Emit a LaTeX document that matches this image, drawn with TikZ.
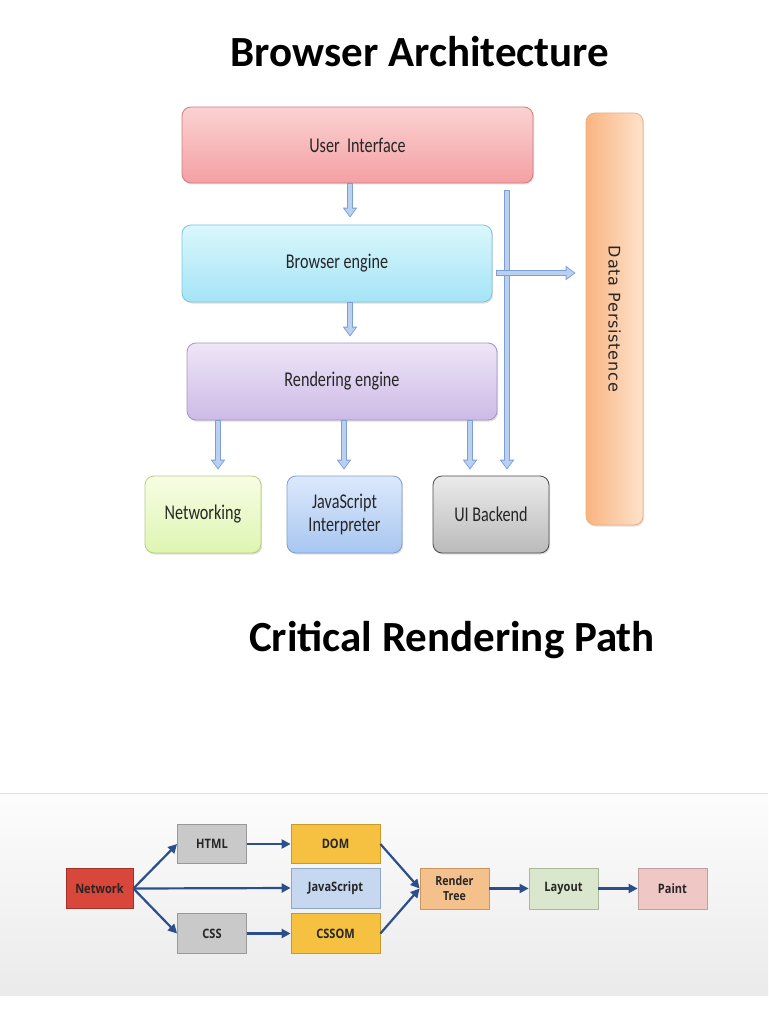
\documentclass[tikz,border=0pt]{standalone}
\usepackage{fontspec}
\setmainfont{Carlito}
\newfontfamily\boxfont[FakeStretch=0.77]{Carlito}
\newfontfamily\crpfont[FakeStretch=0.85]{Open Sans}
\newfontfamily\dpfont[LetterSpace=5]{DejaVu Sans}
\usetikzlibrary{arrows.meta,shadows,calc}
\definecolor{abdr}{HTML}{7D9FD6}
\definecolor{afill}{HTML}{B9D0F1}
\definecolor{crpline}{HTML}{2B4F8C}
\newcommand\barrow[2]{%
  \draw[line width=6.5pt,draw=abdr,-{Triangle[length=10pt,width=14pt]}] #1 -- #2;
  \draw[line width=4pt,draw=afill,shorten <=1pt,shorten >=1.5pt,-{Triangle[length=7.5pt,width=10.5pt]}] #1 -- #2;}
\begin{document}
\begin{tikzpicture}[x=1pt,y=-1pt,
  bbox/.style={rounded corners=9pt,inner sep=0pt,line width=0.8pt,align=center,
    font=\boxfont\fontsize{21}{23}\selectfont,text=black!85,
    drop shadow={opacity=0.25,shadow xshift=1.2pt,shadow yshift=-1.5pt}},
  crpbox/.style={draw,line width=0.8pt,inner sep=0pt,align=center,text=black!85,
    font=\crpfont\bfseries\fontsize{13}{15}\selectfont},
  crparrow/.style={draw=crpline,line width=2.2pt,-{Triangle[length=9pt,width=9pt]}},
  title/.style={anchor=base,font=\bfseries\fontsize{43}{50}\selectfont}]
\useasboundingbox (0,0) rectangle (768,1024);
\fill[white] (0,0) rectangle (768,1024);

% titles
\node[title] (t1) at (420,67) {Browser Architecture};
\node[title] (t2) at (452,651) {Critical Rendering Path};

% browser architecture boxes
\node[bbox,draw=red!45!gray!70,top color={rgb,255:red,251;green,210;blue,210},bottom color={rgb,255:red,244;green,160;blue,164},
  minimum width=351pt,minimum height=76pt] (ui) at (357.5,145) {User~~Interface};
\node[bbox,draw={rgb,255:red,120;green,200;blue,222},top color={rgb,255:red,218;green,247;blue,252},bottom color={rgb,255:red,165;green,228;blue,246},
  minimum width=310pt,minimum height=77pt] (be) at (337,263.5) {Browser engine};
\node[bbox,draw={rgb,255:red,165;green,148;blue,196},top color={rgb,255:red,238;green,230;blue,247},bottom color={rgb,255:red,205;green,186;blue,230},
  minimum width=310pt,minimum height=77pt] (re) at (342,381.5) {Rendering engine};
\node[bbox,draw={rgb,255:red,180;green,205;blue,130},top color={rgb,255:red,247;green,253;blue,228},bottom color={rgb,255:red,222;green,245;blue,178},
  minimum width=116pt,minimum height=77pt] (nw) at (203,514.5) {Networking};
\node[bbox,draw={rgb,255:red,125;green,158;blue,212},top color={rgb,255:red,220;green,233;blue,252},bottom color={rgb,255:red,168;green,198;blue,240},
  minimum width=115pt,minimum height=77pt] (js) at (344.5,514.5) {JavaScript\\Interpreter};
\node[bbox,draw=black!70,top color=black!8,bottom color=black!27,
  minimum width=116pt,minimum height=77pt] (uib) at (491,514.5) {UI Backend};
\node[bbox,rotate=-90,draw={rgb,255:red,238;green,175;blue,130},left color={rgb,255:red,249;green,180;blue,128},right color={rgb,255:red,254;green,226;blue,204},
  minimum width=412pt,minimum height=57pt,font=\dpfont\fontsize{16}{18}\selectfont] (dp) at (614.5,319) {Data Persistence};

% block arrows
\coordinate (a1s) at ($(ui.south)+(-7.5,0)$);
\coordinate (a1e) at ($(be.north)+(13,-7)$);
\coordinate (a2s) at ($(be.south)+(13,0)$);
\coordinate (a2e) at ($(re.north)+(8,-6)$);
\coordinate (a3s) at ($(re.south)+(-124,0)$);
\coordinate (a3e) at ($(nw.north)+(15,-6)$);
\coordinate (a4s) at ($(re.south)+(2,0)$);
\coordinate (a4e) at ($(js.north)+(-0.5,-6)$);
\coordinate (a5s) at ($(re.south)+(128,0)$);
\coordinate (a5e) at ($(uib.north)+(-21,-6)$);
\coordinate (a6s) at ($(ui.south)+(149.5,7)$);
\coordinate (a6e) at ($(uib.north)+(16,-6)$);
\coordinate (a7s) at ($(be.east)+(4,9.5)$);
\coordinate (a7e) at ($(dp.south)+(-10,-46)$);
\barrow{(a1s)}{(a1e)}
\barrow{(a2s)}{(a2e)}
\barrow{(a3s)}{(a3e)}
\barrow{(a4s)}{(a4e)}
\barrow{(a5s)}{(a5e)}
\barrow{(a6s)}{(a6e)}
\barrow{(a7s)}{(a7e)}

% critical rendering path panel
\fill[top color=black!1,bottom color=black!8] (0,793) rectangle (768,995);
\draw[black!12,line width=0.6pt] (0,793) -- (768,793);

\node[crpbox,draw={rgb,255:red,160;green,48;blue,40},fill={rgb,255:red,217;green,70;blue,58},minimum width=67pt,minimum height=40pt] (net) at (99.5,888.5) {Network};
\node[crpbox,draw=black!40,fill=black!21,minimum width=69pt,minimum height=39pt] (html) at (212,844) {HTML};
\node[crpbox,draw={rgb,255:red,200;green,154;blue,42},fill={rgb,255:red,246;green,193;blue,64},minimum width=89pt,minimum height=39pt] (dom) at (335.5,844) {DOM};
\node[crpbox,draw={rgb,255:red,143;green,166;blue,196},fill={rgb,255:red,198;green,216;blue,240},minimum width=89pt,minimum height=40pt] (jsb) at (335.5,888) {JavaScript};
\node[crpbox,draw=black!40,fill=black!21,minimum width=69pt,minimum height=40pt] (css) at (212,933.5) {CSS};
\node[crpbox,draw={rgb,255:red,200;green,154;blue,42},fill={rgb,255:red,246;green,193;blue,64},minimum width=89pt,minimum height=40pt] (cssom) at (335.5,933.5) {CSSOM};
\node[crpbox,draw={rgb,255:red,200;green,148;blue,96},fill={rgb,255:red,244;green,192;blue,140},minimum width=69pt,minimum height=41pt,
  font=\crpfont\bfseries\fontsize{12.5}{15}\selectfont] (rt) at (454.5,888.5) {Render\\Tree};
\node[crpbox,draw={rgb,255:red,168;green,184;blue,152},fill={rgb,255:red,219;green,231;blue,204},minimum width=69pt,minimum height=41pt] (lay) at (563.5,888.5) {Layout};
\node[crpbox,draw={rgb,255:red,191;green,160;blue,160},fill={rgb,255:red,239;green,199;blue,197},minimum width=69pt,minimum height=41pt] (pt) at (672.5,888.5) {Paint};

\draw[crparrow] (net.east) -- (html.west);
\draw[crparrow] (net.east) -- (jsb.west);
\draw[crparrow] (net.east) -- (css.west);
\draw[crparrow] (html.east) -- (dom.west);
\draw[crparrow] (css.east) -- (cssom.west);
\draw[crparrow] (dom.east) -- (rt.west);
\draw[crparrow] (cssom.east) -- (rt.west);
\draw[crparrow] (rt.east) -- (lay.west);
\draw[crparrow] (lay.east) -- (pt.west);
\end{tikzpicture}
\end{document}
